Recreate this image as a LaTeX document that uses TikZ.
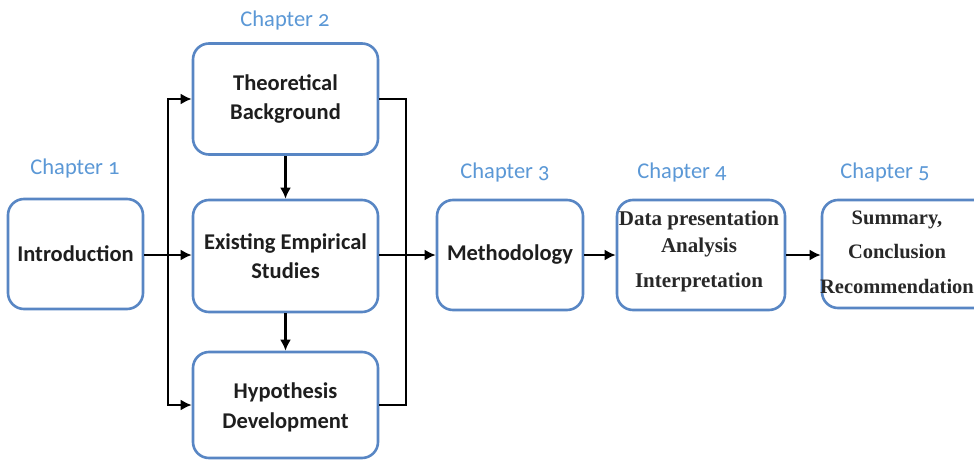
\documentclass[tikz,border=0pt]{standalone}
\usepackage{fontspec}
\usetikzlibrary{arrows.meta}
\newfontfamily\calfont{Carlito}[Numbers=OldStyle]
\newfontfamily\timesfont{Liberation Serif}
\definecolor{boxblue}{RGB}{88,134,196}
\definecolor{chapblue}{RGB}{91,152,214}
\definecolor{txtdark}{RGB}{30,30,30}
\definecolor{sergray}{RGB}{40,40,40}
\begin{document}
\begin{tikzpicture}[x=1pt,y=-1pt,
  box/.style={draw=boxblue, line width=2.6pt, rounded corners=16pt, fill=white, inner sep=0pt, align=center,
    text=txtdark, font=\calfont\bfseries\fontsize{22.5}{29.5}\selectfont},
  chap/.style={text=chapblue, font=\calfont\fontsize{22.5}{25}\selectfont, inner sep=0pt},
  sertext/.style={text=sergray, align=center, inner sep=0pt, font=\timesfont\bfseries\fontsize{21}{25}\selectfont},
  conn/.style={draw=black, line width=2.2pt},
  arr/.style={conn, -{Latex[length=11pt,width=11pt]}}]
\useasboundingbox (0,0) rectangle (974,460);
\clip (0,0) rectangle (974,460);
\fill[white] (0,0) rectangle (974,460);
% boxes
\node[box, minimum width=135pt, minimum height=110pt] (intro) at (75.5,254) {Introduction};
\node[box, minimum width=185pt, minimum height=111pt] (theo) at (285.5,99) {Theoretical\\Background};
\node[box, minimum width=185pt, minimum height=112pt] (exist) at (285.5,256) {Existing Empirical\\Studies};
\node[box, minimum width=185pt, minimum height=106pt] (hyp) at (285.5,405) {\strut Hypothesis\\Development};
\node[box, minimum width=146pt, minimum height=110pt] (meth) at (510,255) {Methodology};
\node[box, minimum width=168pt, minimum height=110pt] (data) at (701,255) {};
\node[box, minimum width=180pt, minimum height=108pt] (summ) at (912,254) {};
\node[sertext] (datatext) at (699,251) {Data presentation\\[2pt]Analysis\\[10pt]Interpretation};
\node[sertext, font=\timesfont\bfseries\fontsize{20.5}{25}\selectfont] (summtext) at (897,252) {Summary,\\[9pt]Conclusion\\[10pt]Recommendation};
% chapter labels
\node[chap] (c1) at (75,168) {Chapter 1};
\node[chap] (c2) at (285,21) {Chapter 2};
\node[chap] (c3) at (505,172) {Chapter 3};
\node[chap] (c4) at (682,172) {Chapter 4};
\node[chap] (c5) at (885,172) {Chapter 5};
% connectors
\coordinate (split) at (168,255);
\coordinate (join) at (406,255);
\draw[conn] (intro.east |- split) -- (split);
\draw[arr] (split) -- (exist.west |- split);
\draw[arr] (split) |- (theo.west);
\draw[arr] (split) |- (hyp.west);
\draw[arr] (theo.south) -- (exist.north);
\draw[arr] (exist.south) -- (hyp.north);
\draw[conn] (theo.east) -| (join);
\draw[conn] (hyp.east) -| (join);
\draw[arr] (exist.east |- join) -- (meth.west |- join);
\draw[arr] (meth.east) -- (data.west |- meth.east);
\draw[arr] (data.east) -- (summ.west |- data.east);
\end{tikzpicture}
\end{document}
